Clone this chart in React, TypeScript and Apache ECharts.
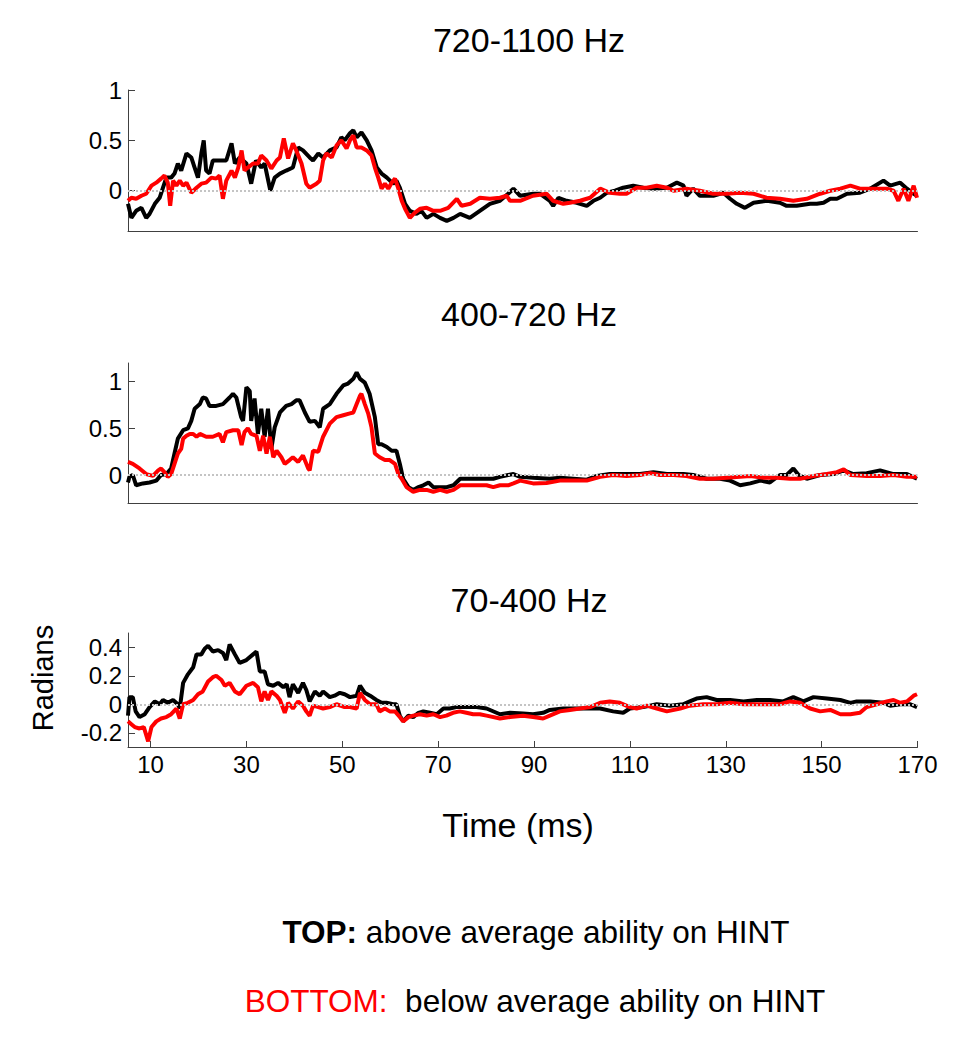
import React, { useEffect, useRef } from "react";
import * as echarts from "echarts";

const FONT = '"Liberation Sans", Arial, Helvetica, sans-serif';

const panelTitles = ["720-1100 Hz", "400-720 Hz", "70-400 Hz"];
const xTicks = [10, 30, 50, 70, 90, 110, 130, 150, 170];
const yTicks1 = [0, 0.5, 1];
const yTicks2 = [0, 0.5, 1];
const yTicks3 = [-0.2, 0, 0.2, 0.4];
const yRanges = [
  [-0.4, 1],
  [-0.3, 1.2],
  [-0.3, 0.5],
];
const xRange = [5.3, 170];

// Panel 1: 720-1100 Hz  [time (ms), radians]
const p1Black = [
  [5.3, -0.13], [6.0, -0.27], [7.0, -0.2], [8.1, -0.17], [9.1, -0.27], [9.8, -0.23], [10.9, -0.13], [11.9, -0.07],
  [12.6, 0.03], [13.3, 0.13], [14.3, 0.13], [15.0, 0.17], [15.7, 0.27], [16.4, 0.2], [17.5, 0.37], [18.5, 0.33],
  [19.2, 0.23], [19.9, 0.13], [20.6, 0.37], [21.1, 0.5], [21.6, 0.2], [22.3, 0.17], [23.0, 0.3], [24.4, 0.3],
  [25.8, 0.3], [26.9, 0.47], [27.6, 0.27], [28.6, 0.33], [30.0, 0.27], [31.0, 0.07], [32.0, 0.3], [33.1, 0.23],
  [33.8, 0.27], [35.0, 0.0], [35.9, 0.13], [37.0, 0.17], [38.3, 0.2], [39.7, 0.23], [40.8, 0.43], [41.8, 0.4],
  [43.2, 0.33], [43.9, 0.3], [45.0, 0.37], [46.0, 0.33], [47.4, 0.4], [48.8, 0.43], [49.8, 0.53], [50.5, 0.5],
  [51.6, 0.57], [52.3, 0.6], [53.0, 0.53], [54.0, 0.58], [55.1, 0.5], [56.1, 0.4], [57.2, 0.23], [58.2, 0.17],
  [59.3, 0.13], [60.6, 0.07], [61.3, 0.1], [62.0, 0.03], [63.1, -0.13], [64.1, -0.2], [65.5, -0.23], [66.5, -0.2],
  [67.6, -0.27], [69.0, -0.23], [70.4, -0.27], [71.8, -0.3], [73.2, -0.27], [74.6, -0.23], [76.6, -0.27], [78.7, -0.2],
  [80.8, -0.13], [82.9, -0.1], [84.6, -0.03], [85.7, 0.02], [87.1, -0.05], [89.8, -0.03], [91.2, -0.03], [93.3, -0.1],
  [94.0, -0.15], [95.1, -0.07], [96.8, -0.1], [98.9, -0.12], [101.0, -0.15], [102.4, -0.1], [103.8, -0.07], [105.2, -0.02],
  [106.9, 0.0], [108.6, 0.03], [110.7, 0.05], [112.8, 0.03], [114.9, 0.02], [117.7, 0.03], [119.8, 0.08], [121.2, 0.05],
  [121.8, -0.05], [123.2, 0.02], [124.6, -0.05], [127.4, -0.05], [129.5, -0.02], [130.9, -0.08], [132.3, -0.13], [134.0, -0.17],
  [135.8, -0.12], [138.6, -0.1], [141.3, -0.12], [142.7, -0.15], [144.8, -0.15], [147.6, -0.13], [149.0, -0.13], [150.4, -0.12],
  [151.8, -0.08], [153.2, -0.08], [155.3, -0.03], [158.0, -0.02], [160.1, 0.02], [162.9, 0.1], [164.3, 0.05], [166.4, 0.08],
  [167.8, 0.02], [169.2, -0.03], [169.9, -0.05],
];
const p1Red = [
  [5.3, -0.1], [6.0, -0.07], [7.0, -0.08], [8.1, -0.05], [9.1, -0.03], [10.2, 0.05], [11.2, 0.08], [12.2, 0.12],
  [12.9, 0.15], [13.6, 0.08], [14.1, -0.15], [14.7, 0.1], [15.4, 0.05], [16.1, 0.1], [16.8, 0.05], [17.5, 0.08],
  [18.5, -0.02], [19.6, 0.03], [20.6, 0.07], [21.6, 0.08], [22.7, 0.13], [23.7, 0.12], [24.4, 0.15], [25.1, -0.08],
  [25.8, 0.1], [26.9, 0.2], [27.6, 0.13], [28.3, 0.23], [29.0, 0.4], [29.6, 0.2], [30.3, 0.23], [31.4, 0.27],
  [32.4, 0.27], [33.1, 0.35], [34.2, 0.3], [35.2, 0.22], [36.3, 0.3], [37.0, 0.33], [37.8, 0.52], [38.7, 0.32],
  [39.7, 0.47], [40.4, 0.4], [41.5, 0.27], [42.5, 0.07], [43.2, 0.03], [44.6, 0.07], [45.3, 0.1], [46.0, 0.3],
  [46.7, 0.37], [47.8, 0.33], [48.8, 0.45], [49.8, 0.5], [50.9, 0.42], [51.6, 0.5], [52.3, 0.55], [53.0, 0.43],
  [54.0, 0.43], [55.1, 0.4], [56.1, 0.35], [56.8, 0.23], [57.5, 0.13], [58.2, 0.02], [58.9, 0.07], [59.6, 0.02],
  [60.3, 0.08], [61.0, 0.12], [61.7, 0.02], [62.4, -0.1], [63.1, -0.18], [64.1, -0.27], [65.1, -0.22], [66.2, -0.18],
  [67.6, -0.17], [69.0, -0.2], [70.4, -0.2], [72.1, -0.17], [73.9, -0.08], [74.9, -0.15], [76.7, -0.13], [78.7, -0.07],
  [80.8, -0.08], [82.9, -0.07], [84.3, -0.05], [85.0, -0.1], [87.1, -0.1], [89.8, -0.05], [92.6, -0.03], [94.0, -0.1],
  [96.1, -0.13], [97.5, -0.12], [99.6, -0.1], [101.7, -0.07], [103.8, 0.02], [105.8, -0.02], [107.9, -0.03], [109.3, -0.03],
  [111.4, 0.03], [113.5, 0.03], [115.6, 0.05], [117.7, 0.03], [119.1, 0.0], [121.8, 0.02], [124.6, 0.0], [127.4, -0.03],
  [130.2, -0.03], [133.0, -0.02], [135.8, -0.03], [138.5, -0.07], [141.3, -0.08], [144.1, -0.1], [146.9, -0.08], [149.7, -0.03],
  [151.8, 0.0], [153.9, 0.02], [156.0, 0.05], [158.0, 0.02], [160.8, 0.02], [163.6, 0.02], [165.0, 0.0], [166.0, -0.1],
  [167.1, 0.02], [168.1, -0.1], [169.2, 0.05], [169.9, -0.07],
];

// Panel 2: 400-720 Hz
const p2Black = [
  [5.3, -0.08], [5.6, -0.02], [6.3, 0.0], [7.0, -0.11], [8.4, -0.09], [9.8, -0.08], [11.2, -0.06], [12.2, 0.0],
  [13.3, 0.01], [14.3, 0.07], [15.0, 0.23], [15.7, 0.39], [16.8, 0.48], [17.8, 0.5], [18.5, 0.58], [19.2, 0.71],
  [20.3, 0.76], [20.9, 0.83], [21.6, 0.82], [22.3, 0.74], [23.7, 0.74], [25.1, 0.76], [26.5, 0.83], [27.2, 0.87],
  [27.9, 0.83], [28.9, 0.62], [29.3, 0.58], [30.0, 0.94], [30.7, 0.9], [31.0, 0.58], [31.7, 0.82], [32.4, 0.44],
  [33.1, 0.71], [33.8, 0.41], [34.5, 0.71], [35.2, 0.28], [35.9, 0.51], [37.0, 0.67], [38.3, 0.74], [39.4, 0.76],
  [40.4, 0.8], [41.1, 0.8], [42.2, 0.67], [43.2, 0.57], [44.3, 0.58], [45.3, 0.51], [46.0, 0.71], [47.4, 0.76],
  [48.8, 0.87], [50.2, 0.96], [51.2, 0.98], [52.3, 1.03], [53.0, 1.1], [53.7, 1.03], [54.7, 0.99], [55.7, 0.87],
  [56.8, 0.62], [57.5, 0.33], [58.2, 0.33], [59.3, 0.3], [60.3, 0.26], [61.3, 0.26], [62.0, 0.12], [62.7, -0.04],
  [63.8, -0.13], [64.8, -0.16], [65.9, -0.13], [66.9, -0.11], [68.0, -0.08], [69.0, -0.13], [70.4, -0.13], [71.8, -0.13],
  [73.2, -0.11], [74.6, -0.04], [76.0, -0.04], [78.0, -0.04], [80.1, -0.04], [81.5, -0.04], [82.9, -0.02], [84.6, 0.0],
  [85.7, 0.01], [87.1, -0.02], [89.8, -0.03], [93.3, -0.04], [95.4, -0.03], [98.2, -0.04], [101.0, -0.05], [103.1, -0.01],
  [105.8, 0.01], [109.3, 0.01], [112.1, 0.01], [114.9, 0.03], [117.7, 0.01], [121.2, 0.01], [123.2, 0.0], [126.0, -0.04],
  [128.8, -0.04], [130.9, -0.06], [133.0, -0.11], [135.1, -0.09], [137.2, -0.06], [139.2, -0.08], [141.3, 0.0], [142.7, 0.0],
  [144.1, 0.07], [145.2, 0.0], [146.9, -0.04], [149.7, 0.0], [152.5, 0.01], [154.6, 0.05], [156.6, 0.01], [159.4, 0.02],
  [162.2, 0.05], [165.0, 0.01], [167.8, 0.01], [169.9, -0.04],
];
const p2Red = [
  [5.3, 0.14], [6.3, 0.12], [7.7, 0.07], [9.1, 0.01], [10.5, -0.01], [11.6, 0.05], [12.2, 0.07], [12.9, 0.03],
  [13.6, -0.02], [14.3, 0.01], [15.0, 0.12], [15.7, 0.23], [16.4, 0.28], [16.8, 0.39], [17.5, 0.42], [18.2, 0.44],
  [18.9, 0.44], [19.6, 0.41], [20.3, 0.44], [21.6, 0.41], [23.0, 0.41], [24.4, 0.44], [25.1, 0.35], [25.8, 0.46],
  [27.2, 0.48], [28.3, 0.48], [29.0, 0.32], [29.6, 0.46], [30.3, 0.5], [31.0, 0.44], [32.1, 0.42], [32.8, 0.26],
  [33.5, 0.42], [34.2, 0.23], [34.9, 0.41], [35.6, 0.19], [36.3, 0.26], [37.3, 0.19], [38.0, 0.12], [39.0, 0.16],
  [39.7, 0.19], [40.8, 0.14], [41.8, 0.21], [42.9, 0.07], [43.2, 0.05], [43.9, 0.26], [45.0, 0.25], [46.0, 0.41],
  [47.4, 0.55], [48.8, 0.62], [50.2, 0.64], [51.6, 0.66], [52.3, 0.67], [53.0, 0.76], [53.7, 0.85], [54.0, 0.87],
  [54.7, 0.76], [55.4, 0.66], [56.1, 0.51], [56.8, 0.23], [57.8, 0.19], [58.9, 0.16], [59.9, 0.16], [61.0, 0.12],
  [61.7, 0.01], [62.4, -0.04], [63.4, -0.13], [64.8, -0.18], [66.2, -0.16], [67.6, -0.16], [69.0, -0.18], [70.4, -0.16],
  [71.8, -0.18], [73.2, -0.16], [74.6, -0.11], [76.0, -0.11], [78.0, -0.11], [80.1, -0.11], [81.5, -0.13], [82.9, -0.11],
  [84.6, -0.11], [85.7, -0.09], [87.1, -0.06], [89.8, -0.09], [92.6, -0.085], [95.4, -0.06], [98.2, -0.06], [101.0, -0.06],
  [103.8, -0.02], [106.5, 0.0], [109.3, -0.01], [112.1, 0.0], [114.2, 0.02], [116.3, 0.0], [119.1, 0.0], [121.8, -0.01],
  [124.6, -0.04], [127.4, -0.04], [130.2, -0.03], [133.0, -0.02], [135.1, -0.01], [137.9, -0.03], [140.6, -0.03], [143.4, -0.04],
  [145.5, -0.04], [148.3, -0.01], [151.1, 0.01], [153.2, 0.03], [154.6, 0.06], [156.0, 0.0], [159.4, -0.01], [162.2, -0.01],
  [165.0, 0.0], [167.8, -0.02], [169.9, -0.02],
];

// Panel 3: 70-400 Hz
const p3Black = [
  [5.3, -0.08], [5.6, 0.05], [6.3, 0.05], [6.9, -0.05], [7.7, -0.09], [8.8, -0.07], [9.8, -0.02], [10.9, 0.02],
  [11.9, 0.0], [12.6, 0.03], [13.6, 0.01], [14.7, 0.03], [15.7, 0.0], [16.1, -0.03], [16.8, 0.15], [17.8, 0.21],
  [18.9, 0.26], [19.6, 0.35], [20.6, 0.35], [21.3, 0.39], [22.0, 0.41], [23.0, 0.37], [24.1, 0.38], [25.1, 0.36],
  [25.8, 0.31], [26.5, 0.42], [27.6, 0.35], [28.6, 0.29], [30.0, 0.31], [31.4, 0.35], [32.1, 0.37], [32.8, 0.23],
  [33.8, 0.23], [34.5, 0.14], [35.6, 0.13], [36.6, 0.15], [37.7, 0.12], [38.4, 0.14], [39.0, 0.05], [39.7, 0.14],
  [40.8, 0.08], [41.8, 0.15], [42.5, 0.1], [43.2, 0.02], [44.3, 0.09], [45.3, 0.06], [46.0, 0.09], [47.4, 0.05],
  [48.4, 0.06], [49.5, 0.08], [50.5, 0.07], [51.6, 0.05], [53.0, 0.06], [53.7, 0.13], [54.7, 0.08], [55.8, 0.06],
  [57.1, 0.03], [58.2, 0.01], [59.2, 0.01], [60.6, 0.0], [61.3, 0.0], [62.0, -0.08], [62.7, -0.12], [63.8, -0.08],
  [64.8, -0.09], [65.9, -0.06], [66.9, -0.05], [68.3, -0.06], [69.7, -0.07], [71.1, -0.03], [72.4, -0.03], [73.8, -0.02],
  [75.9, -0.02], [78.0, -0.02], [80.1, -0.03], [82.9, -0.07], [85.0, -0.06], [87.7, -0.065], [89.8, -0.07], [91.9, -0.06],
  [93.3, -0.04], [96.1, -0.03], [98.9, -0.03], [101.7, -0.03], [103.8, -0.03], [106.5, -0.05], [108.6, -0.06], [110.0, -0.03],
  [112.8, -0.02], [115.6, 0.0], [118.4, -0.01], [121.1, 0.0], [122.5, 0.02], [123.9, 0.04], [126.0, 0.05], [128.1, 0.03],
  [130.9, 0.03], [133.7, 0.02], [136.5, 0.03], [139.2, 0.03], [142.0, 0.02], [144.1, 0.05], [146.2, 0.02], [148.3, 0.05],
  [151.1, 0.04], [153.9, 0.03], [156.0, 0.01], [157.3, 0.02], [160.1, 0.02], [162.9, 0.01], [164.3, -0.01], [166.4, 0.0],
  [168.5, 0.0], [169.9, -0.02],
];
const p3Red = [
  [5.3, -0.12], [6.0, -0.14], [6.7, -0.16], [7.7, -0.17], [8.6, -0.16], [9.5, -0.26], [10.2, -0.16], [11.2, -0.12],
  [12.2, -0.1], [13.3, -0.09], [14.3, -0.07], [15.4, -0.03], [16.1, -0.1], [16.8, 0.0], [17.8, 0.01], [18.9, 0.03],
  [19.9, 0.07], [20.9, 0.09], [22.0, 0.16], [23.0, 0.19], [23.7, 0.2], [24.8, 0.17], [25.5, 0.13], [26.5, 0.15],
  [27.6, 0.09], [28.6, 0.07], [30.0, 0.13], [31.4, 0.15], [32.4, 0.12], [33.1, 0.02], [33.8, 0.09], [34.5, 0.03],
  [35.2, 0.09], [36.3, 0.06], [37.0, 0.03], [38.0, -0.06], [38.7, 0.01], [39.7, -0.03], [40.8, 0.02], [41.8, -0.01],
  [42.5, -0.05], [43.2, -0.08], [43.9, -0.01], [45.0, -0.02], [46.0, -0.03], [47.4, -0.02], [48.8, 0.0], [50.5, -0.02],
  [51.6, -0.02], [53.0, -0.03], [53.7, 0.08], [54.7, 0.03], [55.8, 0.0], [57.1, 0.0], [57.8, -0.05], [58.9, -0.03],
  [59.9, -0.05], [61.0, -0.05], [62.0, -0.09], [62.7, -0.12], [63.8, -0.09], [64.8, -0.08], [66.2, -0.07], [67.6, -0.08],
  [69.0, -0.07], [70.4, -0.09], [71.7, -0.08], [73.1, -0.06], [74.5, -0.05], [75.9, -0.06], [77.3, -0.07], [78.7, -0.07],
  [80.1, -0.08], [82.9, -0.1], [85.0, -0.09], [87.7, -0.08], [89.8, -0.09], [91.9, -0.1], [93.3, -0.08], [95.4, -0.05],
  [97.5, -0.04], [99.6, -0.03], [101.7, -0.02], [103.8, 0.01], [105.8, 0.02], [107.9, 0.01], [110.0, -0.02], [111.4, -0.03],
  [113.5, -0.01], [115.6, -0.03], [117.7, -0.05], [120.5, -0.03], [122.5, -0.01], [125.3, 0.0], [128.1, 0.0], [130.9, 0.01],
  [133.7, 0.0], [136.5, 0.0], [139.2, 0.0], [141.3, 0.0], [143.4, 0.02], [145.5, 0.01], [147.6, -0.03], [149.7, -0.05],
  [151.8, -0.04], [153.9, -0.07], [156.0, -0.07], [158.0, -0.06], [159.4, -0.02], [161.5, 0.0], [163.6, 0.02], [165.0, 0.03],
  [166.4, 0.01], [167.8, 0.02], [169.2, 0.06], [169.9, 0.07],
];

const blackSeries = [p1Black, p2Black, p3Black];
const redSeries = [p1Red, p2Red, p3Red];
const yTickSets = [yTicks1, yTicks2, yTicks3];

const grids = [
  { left: 128, top: 90, width: 789.5, height: 141 },
  { left: 128, top: 363, width: 789.5, height: 140 },
  { left: 128, top: 633, width: 789.5, height: 114 },
];
const titleY = [40, 314, 600];

const AXIS_COLOR = "#404040";

export default function App() {
  const ref = useRef<HTMLDivElement>(null);
  useEffect(() => {
    if (!ref.current) return;
    const chart = echarts.init(ref.current, null, { renderer: "svg" });
    const xAxis = grids.map((_, i) => ({
      gridIndex: i,
      type: "value",
      min: xRange[0],
      max: xRange[1],
      axisLine: { show: true, onZero: false, lineStyle: { color: AXIS_COLOR, width: 1 } },
      axisTick: {
        show: i === 2,
        inside: true,
        length: 6,
        customValues: xTicks,
        lineStyle: { color: AXIS_COLOR },
      },
      axisLabel: {
        show: i === 2,
        customValues: xTicks,
        fontSize: 24,
        fontFamily: FONT,
        color: "#000",
        margin: 5,
      },
      splitLine: { show: false },
    }));
    const yAxis = grids.map((_, i) => ({
      gridIndex: i,
      type: "value",
      min: yRanges[i][0],
      max: yRanges[i][1],
      axisLine: { show: true, onZero: false, lineStyle: { color: AXIS_COLOR, width: 1 } },
      axisTick: {
        show: true,
        inside: true,
        length: 7,
        customValues: yTickSets[i],
        lineStyle: { color: AXIS_COLOR },
      },
      axisLabel: {
        customValues: yTickSets[i],
        fontSize: 24,
        fontFamily: FONT,
        color: "#000",
        margin: 6,
      },
      splitLine: { show: false },
    }));
    const series: any[] = [];
    for (let i = 0; i < 3; i++) {
      series.push({
        type: "line",
        xAxisIndex: i,
        yAxisIndex: i,
        data: [],
        z: 1,
        markLine: {
          silent: true,
          symbol: "none",
          label: { show: false },
          lineStyle: { color: "#c4c4c4", type: "dotted", width: 2 },
          data: [{ yAxis: 0 }],
        },
      });
      series.push({
        type: "line",
        xAxisIndex: i,
        yAxisIndex: i,
        data: blackSeries[i],
        showSymbol: false,
        symbol: "none",
        z: 2,
        lineStyle: { color: "#000000", width: 4 },
      });
      series.push({
        type: "line",
        xAxisIndex: i,
        yAxisIndex: i,
        data: redSeries[i],
        showSymbol: false,
        symbol: "none",
        z: 3,
        lineStyle: { color: "#ff0000", width: 4 },
      });
    }
    const graphic: any[] = panelTitles.map((t, i) => ({
      type: "text",
      x: 529,
      y: titleY[i],
      style: {
        text: t,
        fontSize: 34,
        fontFamily: FONT,
        fill: "#000",
        align: "center",
        verticalAlign: "middle",
      },
    }));
    graphic.push({
      type: "text",
      x: 43,
      y: 678,
      rotation: Math.PI / 2,
      style: {
        text: "Radians",
        fontSize: 29,
        fontFamily: FONT,
        fill: "#000",
        align: "center",
        verticalAlign: "middle",
      },
    });
    graphic.push({
      type: "text",
      x: 518,
      y: 825,
      style: {
        text: "Time (ms)",
        fontSize: 34,
        fontFamily: FONT,
        fill: "#000",
        align: "center",
        verticalAlign: "middle",
      },
    });
    graphic.push({
      type: "text",
      x: 536,
      y: 932,
      style: {
        text: "{b|TOP:} above average ability on HINT",
        fontSize: 31.5,
        fontFamily: FONT,
        fill: "#000",
        align: "center",
        verticalAlign: "middle",
        rich: {
          b: { fontSize: 31.5, fontFamily: FONT, fontWeight: "bold", fill: "#000" },
        },
      },
    });
    graphic.push({
      type: "text",
      x: 535,
      y: 1001,
      style: {
        text: "{r|BOTTOM:}  below average ability on HINT",
        fontSize: 31.5,
        fontFamily: FONT,
        fill: "#000",
        align: "center",
        verticalAlign: "middle",
        rich: {
          r: { fontSize: 31.5, fontFamily: FONT, fill: "#ff0000" },
        },
      },
    });
    chart.setOption({
      animation: false,
      backgroundColor: "#ffffff",
      grid: grids,
      xAxis,
      yAxis,
      series,
      graphic,
    });
    return () => chart.dispose();
  }, []);
  return (
    <div
      ref={ref}
      style={{ position: "absolute", left: 0, top: 0, width: 969, height: 1050 }}
    />
  );
}
